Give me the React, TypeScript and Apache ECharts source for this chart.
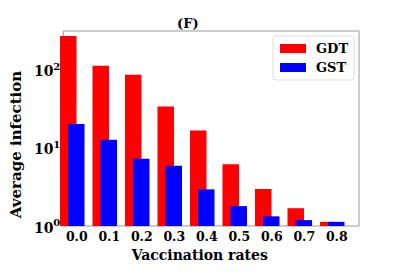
import React, { useEffect, useRef } from 'react';
import * as echarts from 'echarts';

const categories = ['0.0', '0.1', '0.2', '0.3', '0.4', '0.5', '0.6', '0.7', '0.8'];
const gdtValues = [273, 113, 87, 34, 16.7, 6.2, 2.98, 1.69, 1.13];
const gstValues = [20.3, 12.8, 7.3, 5.9, 2.95, 1.8, 1.33, 1.19, 1.13];
const seriesNames = ['GDT', 'GST'];
const yMin = 1;
const yMax = 316;

const FONT = 'DejaVu Serif';

export default function App() {
  const ref = useRef<HTMLDivElement>(null);
  useEffect(() => {
    const chart = echarts.init(ref.current!, null, { renderer: 'svg' });
    const logFmt = (v: number) => {
      const e = Math.log10(v);
      const r = Math.round(e);
      if (Math.abs(e - r) > 1e-6) return '';
      return `{b|10}{s|${r}}`;
    };
    chart.setOption({
      animation: false,
      backgroundColor: '#fff',
      title: {
        text: '(F)',
        left: 177,
        top: 17,
        padding: 0,
        textStyle: { fontFamily: FONT, fontWeight: 'bold', fontSize: 13, color: '#000' },
      },
      legend: {
        data: seriesNames,
        orient: 'vertical',
        left: 273,
        top: 36,
        padding: [6, 6, 6, 7],
        itemWidth: 26,
        itemHeight: 9,
        itemGap: 6,
        icon: 'rect',
        borderColor: '#ddd',
        borderWidth: 1,
        borderRadius: 3,
        textStyle: { fontFamily: FONT, fontWeight: 'bold', fontSize: 13, color: '#000', lineHeight: 13, padding: [0, 0, 0, 5] },
      },
      grid: [
        { left: 46, right: 40, top: 31, bottom: 47, show: true, borderColor: '#999', borderWidth: 1, backgroundColor: 'transparent' },
        { left: 56, right: 50.5, top: 31, bottom: 47 },
      ],
      xAxis: [
        { gridIndex: 0, type: 'value', show: false },
        {
          gridIndex: 1,
          type: 'category',
          data: categories,
          axisLine: { show: false },
          axisTick: { show: false },
          axisLabel: {
            fontFamily: FONT,
            fontWeight: 'bold',
            fontSize: 12.5,
            color: '#000',
            margin: 4,
            padding: [0, 0, 0, 9],
          },
          name: 'Vaccination rates',
          nameLocation: 'middle',
          nameGap: 13,
          nameTextStyle: { fontFamily: FONT, fontWeight: 'bold', fontSize: 14, color: '#000', padding: [0, 5, 0, 0] },
        },
      ],
      yAxis: [
        {
          gridIndex: 0,
          type: 'log',
          logBase: 10,
          min: yMin,
          max: yMax,
          axisLine: { show: false },
          axisTick: { show: false },
          splitLine: { show: false },
          axisLabel: {
            formatter: logFmt,
            margin: 3,
            color: '#000',
            rich: {
              b: { fontFamily: FONT, fontWeight: 'bold', fontSize: 14, color: '#000', lineHeight: 17, verticalAlign: 'bottom' },
              s: { fontFamily: FONT, fontWeight: 'bold', fontSize: 10, color: '#000', lineHeight: 10, verticalAlign: 'top' },
            },
          },
          name: 'Average infection',
          nameLocation: 'middle',
          nameGap: 35,
          nameRotate: 90,
          nameTextStyle: { fontFamily: FONT, fontWeight: 'bold', fontSize: 15, color: '#000', padding: [0, 32, 0, 0] },
        },
        { gridIndex: 1, type: 'log', logBase: 10, min: yMin, max: yMax, show: false },
      ],
      series: [
        {
          name: seriesNames[0],
          type: 'bar',
          xAxisIndex: 1,
          yAxisIndex: 1,
          data: gdtValues,
          barWidth: 16.5,
          barGap: '-51.5%',
          itemStyle: { color: '#ff0000' },
        },
        {
          name: seriesNames[1],
          type: 'bar',
          xAxisIndex: 1,
          yAxisIndex: 1,
          data: gstValues,
          barWidth: 16.5,
          barGap: '-51.5%',
          itemStyle: { color: '#0000ff' },
        },
      ],
    });
    return () => chart.dispose();
  }, []);
  return <div ref={ref} style={{ position: 'fixed', left: 0, top: 0, width: 399, height: 273 }} />;
}
